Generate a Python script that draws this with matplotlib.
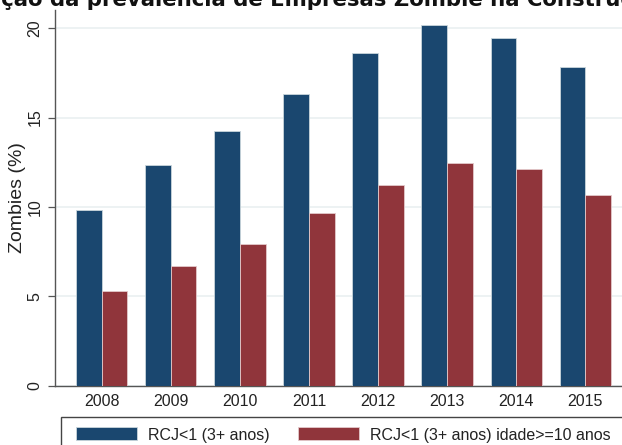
import numpy as np
import matplotlib
matplotlib.use("Agg")
import matplotlib.pyplot as plt
from matplotlib.patches import Rectangle

# data
years = ["2008", "2009", "2010", "2011", "2012", "2013", "2014", "2015"]
zombies_all = [9.83, 12.35, 14.27, 16.32, 18.6, 20.18, 19.44, 17.83]
zombies_old = [5.31, 6.69, 7.92, 9.64, 11.21, 12.47, 12.12, 10.67]
labels = ["RCJ<1 (3+ anos)", "RCJ<1 (3+ anos) idade>=10 anos"]
title = "Evolução da prevalência de Empresas Zombie na Construção"

navy = "#1a476f"
maroon = "#90353b"
W, H = 622, 445

plt.rcParams["font.family"] = ["Liberation Sans", "DejaVu Sans"]

fig = plt.figure(figsize=(W / 100, H / 100), dpi=100)
fig.patch.set_facecolor("white")

# plot region (right side runs past the crop)
ax = fig.add_axes([55 / W, 1 - 385.5 / H, (632 - 55) / W, 376 / H])
x = np.arange(len(years))
bw = 0.37
ax.bar(x - bw / 2, zombies_all, bw, color=navy, edgecolor="#c9d6dc",
       linewidth=0.6, label=labels[0], zorder=3)
ax.bar(x + bw / 2, zombies_old, bw, color=maroon, edgecolor="#e3c9cb",
       linewidth=0.6, label=labels[1], zorder=3)

ax.set_xlim(-0.68, 7.68)
ax.set_ylim(0, 21.05)
ax.set_yticks([0, 5, 10, 15, 20])
ax.set_xticks(x)
ax.set_xticklabels(years)
ax.grid(axis="y", color="#eaf0f1", linewidth=1.2, zorder=0)
ax.set_axisbelow(True)

for s in ["top", "right"]:
    ax.spines[s].set_visible(False)
ax.spines["left"].set_color("#555555")
ax.spines["bottom"].set_color("#555555")
ax.spines["left"].set_linewidth(1.0)
ax.spines["bottom"].set_linewidth(1.0)

ax.tick_params(axis="y", length=5, width=0.9, color="#555555", pad=4,
               labelsize=11.5, labelcolor="#222222")
ax.tick_params(axis="x", length=0, pad=6, labelsize=11.5, labelcolor="#222222")
for lab in ax.get_yticklabels():
    lab.set_rotation(90)
    lab.set_va("center")

ax.set_ylabel("Zombies (%)", fontsize=14, color="#222222", labelpad=1)

# legend box, cut by the bottom and right edges
fig.patches.append(Rectangle((61 / W, -0.05), 1.0, 1.05 - 417 / H,
                             transform=fig.transFigure, facecolor="white",
                             edgecolor="#444444", linewidth=1.0,
                             clip_on=False))
fs_px = 11.5 * 100 / 72
fig.legend(loc="upper left", bbox_to_anchor=(68 / W, 1 - 419.5 / H),
           ncol=2, frameon=False, fontsize=11.5, borderpad=0,
           handlelength=61 / fs_px, handleheight=14 / fs_px,
           handletextpad=11 / fs_px, columnspacing=28 / fs_px,
           labelcolor="#222222")

# title, cropped at top and both sides
tsize = 15.3
fig.canvas.draw()
r = fig.canvas.get_renderer()
probe = fig.text(0, 0, "Evolu", fontsize=tsize, fontweight="bold",
                 family="DejaVu Sans")
w = probe.get_window_extent(renderer=r).width
probe.remove()
fig.text(-w / W + 1 / W, 1 - 6 / H, title, fontsize=tsize, fontweight="bold",
         family="DejaVu Sans", va="baseline", ha="left", color="#111111")

fig.savefig("out.png", dpi=100)
